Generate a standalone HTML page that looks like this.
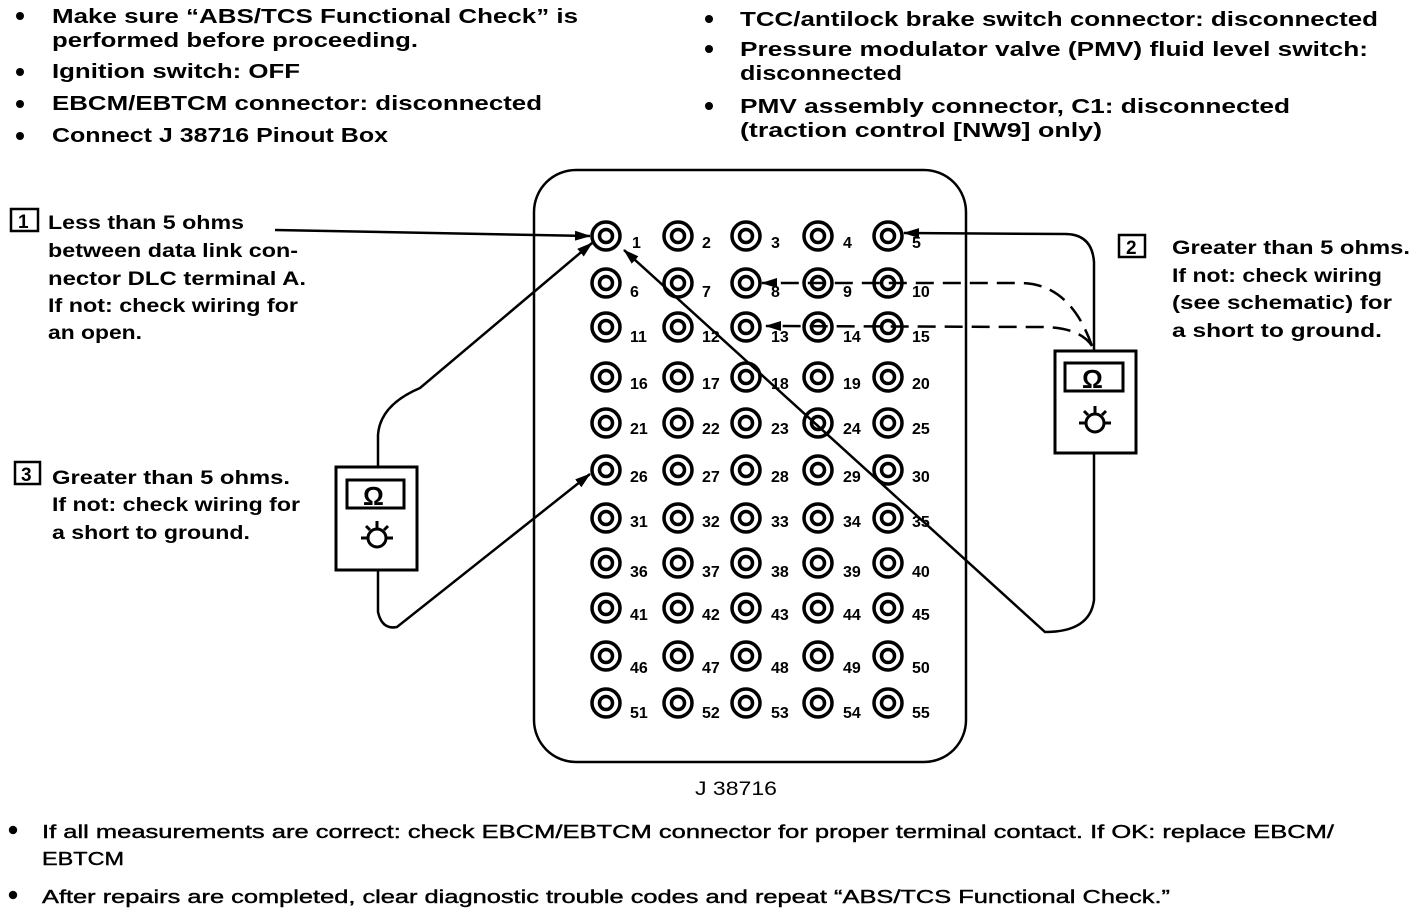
<!DOCTYPE html>
<html><head><meta charset="utf-8"><style>
html,body{margin:0;padding:0;background:#fff;}
svg{display:block;}
text{font-family:"Liberation Sans",sans-serif;fill:#000;}
.h{font-size:20px;font-weight:bold;}
.l{font-size:19px;font-weight:bold;}
.b{font-size:18px;stroke:#000;stroke-width:0.4;}
.n{font-size:16px;font-weight:bold;}
</style></head><body>
<svg width="1424" height="912" viewBox="0 0 1424 912" xmlns="http://www.w3.org/2000/svg">
<defs>
<g id="p"><circle r="14" fill="none" stroke="#000" stroke-width="3.5"/><circle r="6.5" fill="none" stroke="#000" stroke-width="3.5"/></g>
<marker id="a" markerWidth="16" markerHeight="10" refX="15" refY="5" orient="auto" markerUnits="userSpaceOnUse"><path d="M0,0 L16,5 L0,10 Z" fill="#000"/></marker>
</defs>
<g class="h">
<circle cx="20" cy="16" r="4"/><text x="52" y="23" textLength="526" lengthAdjust="spacingAndGlyphs">Make sure “ABS/TCS Functional Check” is</text>
<text x="52" y="47" textLength="366" lengthAdjust="spacingAndGlyphs">performed before proceeding.</text>
<circle cx="20" cy="72" r="4"/><text x="52" y="78" textLength="248" lengthAdjust="spacingAndGlyphs">Ignition switch: OFF</text>
<circle cx="20" cy="104" r="4"/><text x="52" y="110" textLength="490" lengthAdjust="spacingAndGlyphs">EBCM/EBTCM connector: disconnected</text>
<circle cx="20" cy="136" r="4"/><text x="52" y="142" textLength="336" lengthAdjust="spacingAndGlyphs">Connect J 38716 Pinout Box</text>
<circle cx="709" cy="19" r="4"/><text x="740" y="26" textLength="638" lengthAdjust="spacingAndGlyphs">TCC/antilock brake switch connector: disconnected</text>
<circle cx="709" cy="49" r="4"/><text x="740" y="56" textLength="628" lengthAdjust="spacingAndGlyphs">Pressure modulator valve (PMV) fluid level switch:</text>
<text x="740" y="80" textLength="162" lengthAdjust="spacingAndGlyphs">disconnected</text>
<circle cx="709" cy="106" r="4"/><text x="740" y="113" textLength="550" lengthAdjust="spacingAndGlyphs">PMV assembly connector, C1: disconnected</text>
<text x="740" y="137" textLength="362" lengthAdjust="spacingAndGlyphs">(traction control  [NW9] only)</text>
</g>
<g class="l">
<rect x="11" y="209" width="27" height="22" fill="none" stroke="#000" stroke-width="2.5"/><text x="18" y="228" font-size="19">1</text>
<text x="48" y="229" textLength="196" lengthAdjust="spacingAndGlyphs">Less than 5 ohms</text>
<text x="48" y="257" textLength="250" lengthAdjust="spacingAndGlyphs">between data link con-</text>
<text x="48" y="285" textLength="258" lengthAdjust="spacingAndGlyphs">nector DLC terminal A.</text>
<text x="48" y="312" textLength="250" lengthAdjust="spacingAndGlyphs">If not: check wiring for</text>
<text x="48" y="339" textLength="94" lengthAdjust="spacingAndGlyphs">an open.</text>
<rect x="15" y="462" width="25" height="22" fill="none" stroke="#000" stroke-width="2.5"/><text x="21" y="481" font-size="19">3</text>
<text x="52" y="484" textLength="238" lengthAdjust="spacingAndGlyphs">Greater than 5 ohms.</text>
<text x="52" y="511" textLength="248" lengthAdjust="spacingAndGlyphs">If not: check wiring for</text>
<text x="52" y="539" textLength="198" lengthAdjust="spacingAndGlyphs">a short to ground.</text>
<rect x="1119" y="235" width="26" height="22" fill="none" stroke="#000" stroke-width="2.5"/><text x="1126" y="254" font-size="19">2</text>
<text x="1172" y="254" textLength="238" lengthAdjust="spacingAndGlyphs">Greater than 5 ohms.</text>
<text x="1172" y="282" textLength="210" lengthAdjust="spacingAndGlyphs">If not: check wiring</text>
<text x="1172" y="309" textLength="220" lengthAdjust="spacingAndGlyphs">(see schematic) for</text>
<text x="1172" y="337" textLength="210" lengthAdjust="spacingAndGlyphs">a short to  ground.</text>
</g>
<rect x="534" y="170" width="432" height="592" rx="42" fill="none" stroke="#000" stroke-width="2.5"/>
<text x="695" y="795" font-size="19" textLength="82" lengthAdjust="spacingAndGlyphs">J 38716</text>
<g class="n">
<use href="#p" x="606" y="236"/><text x="632" y="248">1</text>
<use href="#p" x="678" y="236"/><text x="702" y="248">2</text>
<use href="#p" x="746" y="236"/><text x="771" y="248">3</text>
<use href="#p" x="818" y="236"/><text x="843" y="248">4</text>
<use href="#p" x="888" y="236"/><text x="912" y="248">5</text>
<use href="#p" x="606" y="283"/><text x="630" y="297">6</text>
<use href="#p" x="678" y="283"/><text x="702" y="297">7</text>
<use href="#p" x="746" y="283"/><text x="771" y="297">8</text>
<use href="#p" x="818" y="283"/><text x="843" y="297">9</text>
<use href="#p" x="888" y="283"/><text x="912" y="297">10</text>
<use href="#p" x="606" y="327"/><text x="630" y="342">11</text>
<use href="#p" x="678" y="327"/><text x="702" y="342">12</text>
<use href="#p" x="746" y="327"/><text x="771" y="342">13</text>
<use href="#p" x="818" y="327"/><text x="843" y="342">14</text>
<use href="#p" x="888" y="327"/><text x="912" y="342">15</text>
<use href="#p" x="606" y="377"/><text x="630" y="389">16</text>
<use href="#p" x="678" y="377"/><text x="702" y="389">17</text>
<use href="#p" x="746" y="377"/><text x="771" y="389">18</text>
<use href="#p" x="818" y="377"/><text x="843" y="389">19</text>
<use href="#p" x="888" y="377"/><text x="912" y="389">20</text>
<use href="#p" x="606" y="423"/><text x="630" y="434">21</text>
<use href="#p" x="678" y="423"/><text x="702" y="434">22</text>
<use href="#p" x="746" y="423"/><text x="771" y="434">23</text>
<use href="#p" x="818" y="423"/><text x="843" y="434">24</text>
<use href="#p" x="888" y="423"/><text x="912" y="434">25</text>
<use href="#p" x="606" y="470"/><text x="630" y="482">26</text>
<use href="#p" x="678" y="470"/><text x="702" y="482">27</text>
<use href="#p" x="746" y="470"/><text x="771" y="482">28</text>
<use href="#p" x="818" y="470"/><text x="843" y="482">29</text>
<use href="#p" x="888" y="470"/><text x="912" y="482">30</text>
<use href="#p" x="606" y="518"/><text x="630" y="527">31</text>
<use href="#p" x="678" y="518"/><text x="702" y="527">32</text>
<use href="#p" x="746" y="518"/><text x="771" y="527">33</text>
<use href="#p" x="818" y="518"/><text x="843" y="527">34</text>
<use href="#p" x="888" y="518"/><text x="912" y="527">35</text>
<use href="#p" x="606" y="563"/><text x="630" y="577">36</text>
<use href="#p" x="678" y="563"/><text x="702" y="577">37</text>
<use href="#p" x="746" y="563"/><text x="771" y="577">38</text>
<use href="#p" x="818" y="563"/><text x="843" y="577">39</text>
<use href="#p" x="888" y="563"/><text x="912" y="577">40</text>
<use href="#p" x="606" y="608"/><text x="630" y="620">41</text>
<use href="#p" x="678" y="608"/><text x="702" y="620">42</text>
<use href="#p" x="746" y="608"/><text x="771" y="620">43</text>
<use href="#p" x="818" y="608"/><text x="843" y="620">44</text>
<use href="#p" x="888" y="608"/><text x="912" y="620">45</text>
<use href="#p" x="606" y="656"/><text x="630" y="673">46</text>
<use href="#p" x="678" y="656"/><text x="702" y="673">47</text>
<use href="#p" x="746" y="656"/><text x="771" y="673">48</text>
<use href="#p" x="818" y="656"/><text x="843" y="673">49</text>
<use href="#p" x="888" y="656"/><text x="912" y="673">50</text>
<use href="#p" x="606" y="703"/><text x="630" y="718">51</text>
<use href="#p" x="678" y="703"/><text x="702" y="718">52</text>
<use href="#p" x="746" y="703"/><text x="771" y="718">53</text>
<use href="#p" x="818" y="703"/><text x="843" y="718">54</text>
<use href="#p" x="888" y="703"/><text x="912" y="718">55</text>
</g>
<g fill="none" stroke="#000" stroke-width="3">
<rect x="336" y="467" width="81" height="103"/>
<rect x="347" y="480" width="57" height="28"/>
<circle cx="377" cy="538" r="9"/>
<path d="M361,538 H368 M386,538 H393 M377,521 V529 M366,526 L370,530 M388,526 L384,530"/>
<rect x="1055" y="351" width="81" height="102"/>
<rect x="1065" y="363" width="58" height="28"/>
<circle cx="1095" cy="423" r="9"/>
<path d="M1079,423 H1086 M1104,423 H1111 M1095,406 V414 M1084,411 L1088,415 M1106,411 L1102,415"/>
</g>
<text x="363" y="505" font-size="26" font-family="Liberation Serif" font-weight="bold">Ω</text>
<text x="1082" y="388" font-size="26" font-family="Liberation Serif" font-weight="bold">Ω</text>
<g fill="none" stroke="#000" stroke-width="2.5">
<path d="M275,230 L590,236" marker-end="url(#a)"/>
<path d="M378,467 V435 Q380,405 420,388 L592,243" marker-end="url(#a)"/>
<path d="M378,570 V612 Q382,630 397,627 L590,474" marker-end="url(#a)"/>
<path d="M1094,453 V600 Q1090,632 1045,632 L624,250" marker-end="url(#a)"/>
<path d="M1094,351 V262 Q1092,234 1065,234 L904,233" marker-end="url(#a)"/>
<path d="M1092,346 Q1070,283 1020,283 L762,283" stroke-dasharray="18,9" marker-end="url(#a)"/>
<path d="M1092,346 Q1080,327 1040,327 L766,326" stroke-dasharray="18,9" marker-end="url(#a)"/>
</g>
<g class="b">
<circle cx="13" cy="830" r="4"/><text x="42" y="838" textLength="1292" lengthAdjust="spacingAndGlyphs">If all measurements are correct: check EBCM/EBTCM connector for proper terminal contact. If OK: replace EBCM/</text>
<text x="42" y="865" textLength="82" lengthAdjust="spacingAndGlyphs">EBTCM</text>
<circle cx="13" cy="895" r="4"/><text x="42" y="903" textLength="1128" lengthAdjust="spacingAndGlyphs">After repairs are completed, clear diagnostic trouble codes and repeat “ABS/TCS Functional Check.”</text>
</g>
</svg>
</body></html>
